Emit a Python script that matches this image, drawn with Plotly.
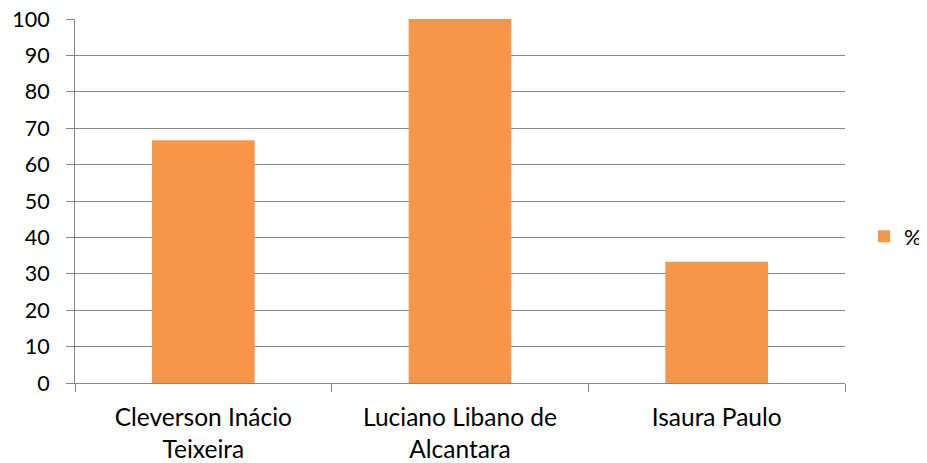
import plotly.graph_objects as go

categories = ["Cleverson Inácio<br>Teixeira", "Luciano Libano de<br>Alcantara", "Isaura Paulo"]
values = [66.67, 100, 33.33]
series_name = "%"
y_ticks = [0, 10, 20, 30, 40, 50, 60, 70, 80, 90, 100]

fig = go.Figure()
fig.add_trace(go.Bar(x=categories, y=values, name=series_name,
                     marker=dict(color="#F79646", line=dict(width=0)),
                     width=0.4, showlegend=True))

grid = "#868686"
# page has an 8px body margin, so the figure is drawn 8px in from the top-left
fig.update_layout(
    width=919, height=455,
    margin=dict(l=67, r=82, t=11, b=80, autoexpand=False),
    paper_bgcolor="white", plot_bgcolor="white",
    font=dict(family="Lato, Carlito, Calibri, sans-serif", size=22, color="#000000"),
    showlegend=True,
    legend=dict(xref="container", yref="container", x=1.0, y=0.498,
                xanchor="right", yanchor="middle",
                font=dict(size=22), itemwidth=30, bgcolor="rgba(0,0,0,0)"),
    bargap=0.6,
)
fig.update_xaxes(showline=True, linecolor=grid, linewidth=1, automargin=False,
                 ticks="outside", tickson="boundaries", ticklen=8, tickcolor=grid,
                 showgrid=False, mirror=False, ticklabelstandoff=13,
                 tickfont=dict(size=24.5))
fig.update_yaxes(range=[0, 100], tickvals=y_ticks, showline=True, linecolor=grid, linewidth=1,
                 ticks="outside", ticklen=8, tickcolor=grid, automargin=False,
                 showgrid=True, gridcolor=grid, gridwidth=1, zeroline=False,
                 ticklabelstandoff=12, ticklabeloverflow="allow",
                 tickfont=dict(size=21.5))

fig.write_html("out.html")
